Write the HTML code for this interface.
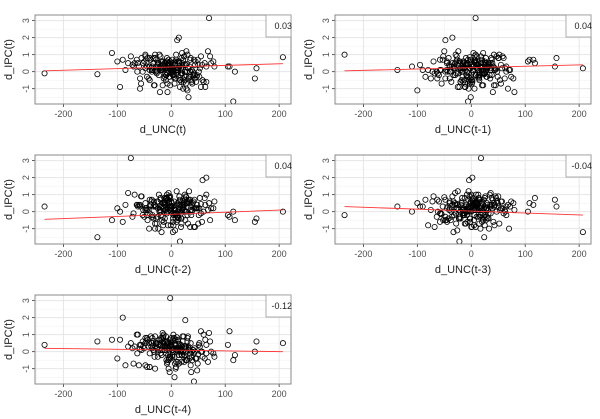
<!DOCTYPE html>
<html><head><meta charset="utf-8"><style>
html,body{margin:0;padding:0;background:#fff;}
svg{display:block;font-family:"Liberation Sans",sans-serif;}
</style></head><body>
<svg id="chart" width="600" height="419"></svg>
<script>
const unc = [12,-45,3,-20,60,-8,25,-235,30,-60,5,-15,45,-2,18,-75,8,70,-30,-5,22,-110,15,-40,0,35,-12,55,-25,10,-50,28,-3,207,-18,40,-7,20,-90,2,65,-35,14,-10,50,-55,6,24,-137,-1,32,-28,78,-14,9,-68,42,-22,16,-6,115,-38,26,-4,58,-48,11,-16,36,-80,4,20,-32,105,-9,48,-26,7,-100,30,-12,62,-42,19,-2,155,-20,38,-64,13,-8,52,-30,1,27,-52,72,-18,17,-45,8,44,-11,-95,23,-36,108,-5,33,-24,68,-58,10,-15,46,-3,158,-40,21,-70,15,-27,55,-7,29,-48,118,-13,37,-33,3,80,-21,12,-85,25,-6,42,-16,18,-62,0,65,-29,9,
 -4,21,-33,14,6,-19,38,-9,27,-44,2,16,-26,49,-12,31,-3,-56,11,24,-7,57,-37,19,-15,4,34,-23,8,-48,43,-1,22,-31,13,-72,29,5,-17,53,-10,36,-40,1,18,-25,63,-6,26,-53,9,41,-14,-2,23,-35,15,47,-20,3,-63,32,7,-28,19,-11,39,-46,12,0,25,-8,51,-30,17,-41,6,28,-16,74,-4,-22,14,35,-58,2,20,-12,44,-36,10,-3,30,-19,59,-27];
const ipc = [0.2,-0.3,0.5,0.1,-0.6,0.8,0.0,-0.1,1.0,0.3,-0.2,0.4,0.6,-0.8,0.2,0.9,-0.4,3.15,0.1,0.5,-1.0,1.1,0.3,-0.5,0.0,0.7,0.2,-0.9,0.4,-0.1,0.6,1.2,-0.3,0.85,0.2,0.0,-1.2,0.5,0.7,0.1,-0.6,0.3,2.0,-0.2,0.4,0.8,-0.7,0.9,-0.15,0.1,-1.5,0.3,0.6,-0.4,0.2,0.5,-0.1,1.0,-0.9,0.3,-1.75,0.7,0.0,0.4,-0.5,0.9,1.85,0.2,-0.3,0.5,0.1,1.1,-0.8,0.3,0.6,-0.2,0.0,0.4,0.6,-1.1,0.2,0.5,-0.4,0.8,0.1,-0.4,0.3,-0.6,0.7,0.0,0.4,-0.3,1.0,0.2,-0.7,0.5,0.9,0.1,-0.5,0.3,0.6,-0.2,0.2,-0.9,0.4,0.0,0.3,0.7,-0.3,0.5,1.2,-1.0,0.1,0.4,-0.6,0.15,0.2,0.8,-0.4,0.3,0.6,-0.1,0.9,-0.7,0.45,0.2,0.0,0.5,-0.5,0.8,-0.2,0.3,-1.2,0.6,0.1,-0.3,0.4,0.7,-0.8,0.2,0.5,-0.1,0.3,0.0,1.0,
 0.3,-0.1,0.5,0.2,-0.4,0.6,0.1,-0.2,0.4,0.8,0.0,-0.5,0.3,0.7,-0.3,0.2,0.5,-0.7,0.1,0.9,-0.1,0.4,0.2,-0.6,0.6,0.0,0.3,-0.2,0.5,1.0,-0.4,0.1,0.7,-0.8,0.2,0.4,0.0,-0.3,0.6,0.2,-0.5,0.8,0.1,0.3,-0.1,0.5,-0.9,0.2,0.4,0.0,0.7,-0.2,0.3,0.6,-0.6,0.1,0.5,-0.3,0.9,0.2,0.0,-0.4,0.4,0.7,-0.1,0.3,-0.7,0.5,0.1,0.2,-0.5,0.6,0.0,0.8,-0.2,0.3,0.4,-1.0,0.1,0.5,-0.3,0.2,0.6,0.0,-0.4,0.7,0.3,-0.1,0.4,0.1];
const lags = [0,1,2,3,4];
const xTitles = ["d_UNC(t)","d_UNC(t-1)","d_UNC(t-2)","d_UNC(t-3)","d_UNC(t-4)"];
const corrLabels = ["0.03","0.04","0.04","-0.04","-0.12"];
const fitStart = [0.05,0.05,-0.45,0.3,0.2];
const fitEnd = [0.47,0.4,0.1,-0.2,0.0];
const fitX = [-235,207];
const xTicks = [-200,-100,0,100,200];
const yTicks = [-1,0,1,2,3];

const NS="http://www.w3.org/2000/svg";
const svg=document.getElementById('chart');
function mk(tag,attrs,parent){const e=document.createElementNS(NS,tag);for(const k in attrs)e.setAttribute(k,attrs[k]);(parent||svg).appendChild(e);return e;}
const L=35,R=291,T=15,B=104;
const xmin=-252.7,xmax=222,ymin=-1.9,ymax=3.33;
const offsets=[[0,0],[300,0],[0,140],[300,140],[0,280]];
lags.forEach((lag,p)=>{
  const [ox,oy]=offsets[p];
  const sx=v=>ox+L+(v-xmin)/(xmax-xmin)*(R-L);
  const sy=v=>oy+B-(v-ymin)/(ymax-ymin)*(B-T);
  const g=mk('g',{});
  
  
  mk('rect',{x:ox+L,y:oy+T,width:R-L,height:B-T,fill:'#fff'},g);
  for(let v=-250;v<=200;v+=50){if(v%100!==0)mk('line',{x1:sx(v),x2:sx(v),y1:oy+T,y2:oy+B,stroke:'#f2f2f2','stroke-width':0.6},g);}
  for(let v=-1.5;v<=3;v+=1){mk('line',{x1:ox+L,x2:ox+R,y1:sy(v),y2:sy(v),stroke:'#f2f2f2','stroke-width':0.6},g);}
  xTicks.forEach(v=>{
    mk('line',{x1:sx(v),x2:sx(v),y1:oy+T,y2:oy+B,stroke:'#e6e6e6','stroke-width':1},g);
    mk('line',{x1:sx(v),x2:sx(v),y1:oy+B,y2:oy+B+3,stroke:'#333','stroke-width':0.8},g);
    const t=mk('text',{x:sx(v),y:oy+B+13,'font-size':9,fill:'#4d4d4d','text-anchor':'middle'},g);t.textContent=v;
    
    
  });
  yTicks.forEach(v=>{
    mk('line',{x1:ox+L,x2:ox+R,y1:sy(v),y2:sy(v),stroke:'#e6e6e6','stroke-width':1},g);
    mk('line',{x1:ox+L-3,x2:ox+L,y1:sy(v),y2:sy(v),stroke:'#333','stroke-width':0.8},g);
    const t=mk('text',{x:ox+L-6,y:sy(v),'font-size':9,fill:'#4d4d4d','text-anchor':'middle',transform:`rotate(-90 ${ox+L-6} ${sy(v)})`},g);t.textContent=v;
    
    
  });
  for(let i=lag;i<ipc.length&&i<unc.length+lag;i++){
    const c=mk('circle',{cx:sx(unc[i-lag]),cy:sy(ipc[i]),r:2.6,fill:'none',stroke:'#000','stroke-width':0.8},g);
    
    
  }
  const fl=mk('line',{x1:sx(fitX[0]),y1:sy(fitStart[p]),x2:sx(fitX[1]),y2:sy(fitEnd[p]),stroke:'#f33','stroke-width':0.9},g);
  
  
  mk('rect',{x:ox+L,y:oy+T,width:R-L,height:B-T,fill:'none',stroke:'#888','stroke-width':1},g);
  const lb=mk('rect',{x:ox+266,y:oy+T,width:25,height:22,fill:'#fff',stroke:'#999','stroke-width':0.8},g);
  
  
  const ct=mk('text',{x:ox+292,y:oy+T+14,'font-size':9,fill:'#222','text-anchor':'end'},g);ct.textContent=corrLabels[p];
  
  
  const xt=mk('text',{x:ox+(L+R)/2,y:oy+B+29,'font-size':11,fill:'#222','text-anchor':'middle'},g);xt.textContent=xTitles[p];
  
  
  const yx=ox+12,yy=oy+(T+B)/2;
  const yt=mk('text',{x:yx,y:yy,'font-size':11,fill:'#222','text-anchor':'middle',transform:`rotate(-90 ${yx} ${yy})`},g);yt.textContent='d_IPC(t)';
  
  
});
</script>
</body></html>
